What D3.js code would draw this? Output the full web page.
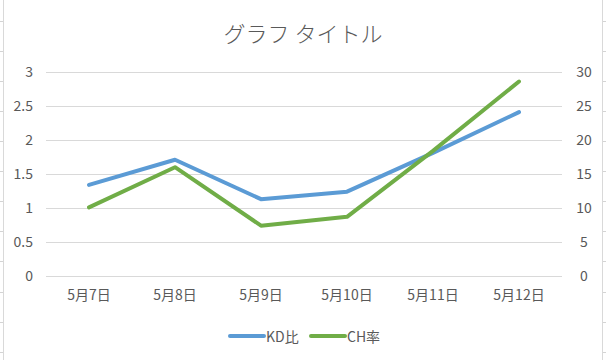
<!DOCTYPE html>
<html>
<head>
<meta charset="utf-8">
<script src="https://cdn.jsdelivr.net/npm/d3@7"></script>
<style>
  html, body { margin: 0; padding: 0; background: #fff; }
  svg { display: block; }
  text { font-family: "Noto Sans CJK JP", "Noto Sans", sans-serif; fill: #595959; }
</style>
</head>
<body>
<svg id="chart" width="606" height="360"></svg>
<script>
const title = "グラフ タイトル";
const categories = ["5月7日", "5月8日", "5月9日", "5月10日", "5月11日", "5月12日"];
const kdValues = [1.34, 1.71, 1.13, 1.24, 1.81, 2.41];
const chValues = [10.1, 16.0, 7.4, 8.7, 18.4, 28.6];
const leftTicks = [0, 0.5, 1, 1.5, 2, 2.5, 3];
const rightTicks = [0, 5, 10, 15, 20, 25, 30];
const seriesNames = ["KD比", "CH率"];
const colors = ["#5B9BD5", "#70AD47"];

const svg = d3.select("#chart");
const W = 606, H = 360;

// spreadsheet cell gridlines behind the chart object
const cellRows = d3.range(0, 12);
svg.append("g").selectAll("line").data(cellRows).join("line")
  .attr("x1", 0).attr("x2", W)
  .attr("y1", d => Math.round(20.6 + d * 30.1) + 0.5)
  .attr("y2", d => Math.round(20.6 + d * 30.1) + 0.5)
  .attr("stroke", "#D4D4D4").attr("stroke-width", 1);

// chart area
svg.append("rect")
  .attr("x", 3.5).attr("y", -5).attr("width", 599).attr("height", H + 10)
  .attr("fill", "#fff").attr("stroke", "#D9D9D9").attr("stroke-width", 1);

const plotLeft = 46, plotRight = 562;
const x = d3.scaleBand().domain(categories).range([plotLeft, plotRight]);
const yL = d3.scaleLinear().domain([0, 3]).range([276, 72]);
const yR = d3.scaleLinear().domain([0, 30]).range([276, 72]);

// title
svg.append("text")
  .attr("x", 303).attr("y", 32)
  .attr("text-anchor", "middle").attr("dominant-baseline", "central")
  .attr("font-size", 22).attr("font-weight", 300)
  .text(title);

// gridlines
svg.append("g").selectAll("line").data(leftTicks).join("line")
  .attr("x1", plotLeft).attr("x2", plotRight)
  .attr("y1", d => Math.round(yL(d)) + 0.5).attr("y2", d => Math.round(yL(d)) + 0.5)
  .attr("stroke", "#D9D9D9").attr("stroke-width", 1);

// left axis
const axL = d3.axisLeft(yL).tickValues(leftTicks).tickSize(0).tickPadding(0).tickFormat(d3.format("~g"));
const gL = svg.append("g").attr("transform", "translate(33,0)").call(axL);
gL.select(".domain").remove();
gL.selectAll("text").attr("font-size", 14).attr("fill", "#595959")
  .attr("font-family", "\"Noto Sans CJK JP\", sans-serif");

// right axis
const axR = d3.axisRight(yR).tickValues(rightTicks).tickSize(0).tickPadding(0).tickFormat(d3.format("~g"));
const gR = svg.append("g").attr("transform", "translate(584,0)").call(axR);
gR.select(".domain").remove();
gR.selectAll("text").attr("font-size", 14).attr("fill", "#595959").attr("text-anchor", "middle")
  .attr("font-family", "\"Noto Sans CJK JP\", sans-serif");

// category axis
const axB = d3.axisBottom(x).tickSize(0).tickPadding(0);
const gB = svg.append("g").attr("transform", "translate(0,290)").call(axB);
gB.select(".domain").remove();
gB.selectAll("text").attr("font-size", 14).attr("fill", "#595959")
  .attr("font-family", "\"Noto Sans CJK JP\", sans-serif");

// lines
const cx = d => x(d) + x.bandwidth() / 2;
const lineL = d3.line().x((d, i) => cx(categories[i])).y(d => yL(d));
const lineR = d3.line().x((d, i) => cx(categories[i])).y(d => yR(d));

svg.append("path").datum(kdValues).attr("d", lineL)
  .attr("fill", "none").attr("stroke", colors[0]).attr("stroke-width", 4)
  .attr("stroke-linejoin", "round").attr("stroke-linecap", "round");
svg.append("path").datum(chValues).attr("d", lineR)
  .attr("fill", "none").attr("stroke", colors[1]).attr("stroke-width", 4)
  .attr("stroke-linejoin", "round").attr("stroke-linecap", "round");

// legend
const legendY = 336;
const legendItems = [{ x: 230, name: seriesNames[0], color: colors[0] }, { x: 311, name: seriesNames[1], color: colors[1] }];
const lg = svg.append("g").selectAll("g").data(legendItems).join("g");
lg.append("line")
  .attr("x1", d => d.x).attr("x2", d => d.x + 34)
  .attr("y1", legendY).attr("y2", legendY)
  .attr("stroke", d => d.color).attr("stroke-width", 4).attr("stroke-linecap", "round");
lg.append("text")
  .attr("x", d => d.x + 36).attr("y", legendY)
  .attr("dominant-baseline", "central").attr("font-size", 14)
  .text(d => d.name);
</script>
</body>
</html>
